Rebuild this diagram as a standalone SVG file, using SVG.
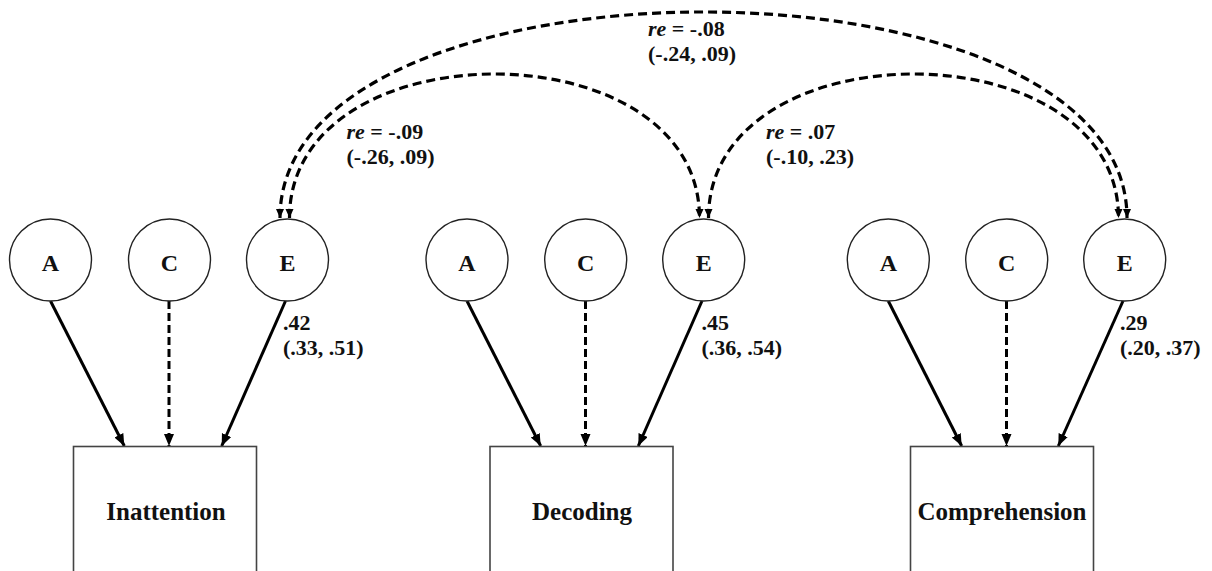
<svg xmlns="http://www.w3.org/2000/svg" width="1212" height="571" viewBox="0 0 1212 571">
<style>
.lat{fill:#fff;stroke:#222;stroke-width:1.4}
.box{fill:#fff;stroke:#444;stroke-width:1.6}
.lt{font-family:"Liberation Serif","Times New Roman",serif;font-weight:bold;font-size:24px;text-anchor:middle;fill:#111}
.bt{font-family:"Liberation Serif","Times New Roman",serif;font-weight:bold;font-size:25px;text-anchor:middle;fill:#111}
.lab{font-family:"Liberation Serif","Times New Roman",serif;font-weight:bold;font-size:22px;fill:#111}
.solid{fill:none;stroke:#000;stroke-width:3;marker-end:url(#ah)}
.dash{fill:none;stroke:#000;stroke-width:3;stroke-dasharray:8 4;marker-end:url(#ah)}
.arc{fill:none;stroke:#000;stroke-width:3.2;stroke-dasharray:9 5;marker-end:url(#ahs);marker-start:url(#ahs)}
</style>
<defs>
<marker id="ah" markerUnits="userSpaceOnUse" markerWidth="14" markerHeight="12" refX="12" refY="5" orient="auto">
<path d="M0,0 L12,5 L0,10 z" fill="#000"/>
</marker>
<marker id="ahs" markerUnits="userSpaceOnUse" markerWidth="10" markerHeight="10" refX="9" refY="4" orient="auto-start-reverse">
<path d="M0,0 L9,4 L0,8 z" fill="#000"/>
</marker>
</defs>
<rect width="1212" height="571" fill="#fff"/>
<g id="connectors">
<line class="solid" x1="50.5" y1="301" x2="124.3" y2="446"/>
<line class="dash" x1="169" y1="301" x2="169" y2="446"/>
<line class="solid" x1="285.5" y1="301" x2="221.7" y2="446"/>
<line class="solid" x1="467" y1="301" x2="540.7" y2="446"/>
<line class="dash" x1="585.5" y1="301" x2="585.5" y2="446"/>
<line class="solid" x1="702" y1="301" x2="638.3" y2="446"/>
<line class="solid" x1="888.3" y1="301" x2="961.7" y2="446"/>
<line class="dash" x1="1006.5" y1="301" x2="1006.5" y2="446"/>
<line class="solid" x1="1123" y1="301" x2="1058.3" y2="446"/>
<path class="arc" d="M280,218 C280,-56.7 1127,-56.7 1127,218"/>
<path class="arc" d="M289.5,218 C289.5,26 699.5,26 699.5,218"/>
<path class="arc" d="M708.5,218 C708.5,26 1118.5,26 1118.5,218"/>
</g>
<g id="node-inattention-A"><circle class="lat" cx="50.5" cy="260" r="41"/><text class="lt" x="50.5" y="271">A</text></g>
<g id="node-inattention-C"><circle class="lat" cx="169.5" cy="260" r="41"/><text class="lt" x="169.5" y="271">C</text></g>
<g id="node-inattention-E"><circle class="lat" cx="287.5" cy="260" r="41"/><text class="lt" x="287.5" y="271">E</text></g>
<g id="node-decoding-A"><circle class="lat" cx="467" cy="260" r="41"/><text class="lt" x="467" y="271">A</text></g>
<g id="node-decoding-C"><circle class="lat" cx="585.7" cy="260" r="41"/><text class="lt" x="585.7" y="271">C</text></g>
<g id="node-decoding-E"><circle class="lat" cx="703.7" cy="260" r="41"/><text class="lt" x="703.7" y="271">E</text></g>
<g id="node-comprehension-A"><circle class="lat" cx="888.3" cy="260" r="41"/><text class="lt" x="888.3" y="271">A</text></g>
<g id="node-comprehension-C"><circle class="lat" cx="1006.7" cy="260" r="41"/><text class="lt" x="1006.7" y="271">C</text></g>
<g id="node-comprehension-E"><circle class="lat" cx="1124.7" cy="260" r="41"/><text class="lt" x="1124.7" y="271">E</text></g>
<g id="node-inattention"><rect class="box" x="73.5" y="446.5" width="183" height="140"/><text class="bt" x="166" y="520">Inattention</text></g>
<g id="node-decoding"><rect class="box" x="490" y="446.5" width="183" height="140"/><text class="bt" x="582" y="520">Decoding</text></g>
<g id="node-comprehension"><rect class="box" x="910.5" y="446.5" width="183" height="140"/><text class="bt" x="1002" y="520">Comprehension</text></g>
<g id="labels">
<text class="lab" x="283" y="330">.42</text>
<text class="lab" x="283" y="355">(.33, .51)</text>
<text class="lab" x="701.5" y="330">.45</text>
<text class="lab" x="701.5" y="355">(.36, .54)</text>
<text class="lab" x="1120" y="330">.29</text>
<text class="lab" x="1120" y="355">(.20, .37)</text>
<text class="lab" x="648" y="36"><tspan font-style="italic">re</tspan> = -.08</text>
<text class="lab" x="648" y="61">(-.24, .09)</text>
<text class="lab" x="346.5" y="139"><tspan font-style="italic">re</tspan> = -.09</text>
<text class="lab" x="346.5" y="164">(-.26, .09)</text>
<text class="lab" x="766" y="139"><tspan font-style="italic">re</tspan> = .07</text>
<text class="lab" x="766" y="164">(-.10, .23)</text>
</g>
</svg>
